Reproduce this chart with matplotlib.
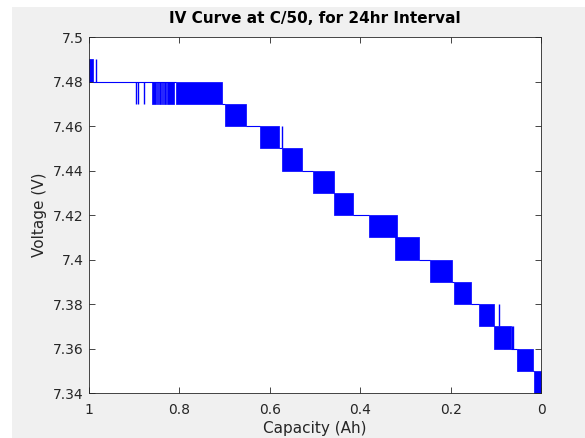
import matplotlib
matplotlib.use("Agg")
import matplotlib.pyplot as plt
from matplotlib.patches import Rectangle

# dense toggling blocks: capacity where the toggling starts / ends, lower voltage level
block_start = [1.0, 0.8082, 0.699, 0.6217, 0.5737, 0.5051, 0.4573, 0.3805,
               0.323, 0.2456, 0.1925, 0.1365, 0.1033, 0.0538, 0.0155]
block_end = [0.9905, 0.7064, 0.6527, 0.5796, 0.5294, 0.4586, 0.4153, 0.3192,
             0.27, 0.1976, 0.1549, 0.1033, 0.0664, 0.017, 0.0]
block_low = [7.48, 7.47, 7.46, 7.45, 7.44, 7.43, 7.42, 7.41,
             7.40, 7.39, 7.38, 7.37, 7.36, 7.35, 7.34]

# short bursts at 7.47-7.48 before the first big block
burst_start = [0.8613, 0.8502, 0.8451, 0.8392, 0.8334, 0.8281]
burst_end = [0.8518, 0.848, 0.8414, 0.8356, 0.8303, 0.8113]
burst_low = 7.47

# single toggles
spike_cap = [0.9845, 0.8967, 0.8923, 0.8777, 0.573, 0.0929, 0.0635, 0.0613, 0.052]
spike_low = [7.48, 7.47, 7.47, 7.47, 7.45, 7.37, 7.36, 7.36, 7.35]

step = 0.01

y_ticks = [7.34, 7.36, 7.38, 7.4, 7.42, 7.44, 7.46, 7.48, 7.5]
y_labels = ["7.34", "7.36", "7.38", "7.4", "7.42", "7.44", "7.46", "7.48", "7.5"]
x_ticks = [1, 0.8, 0.6, 0.4, 0.2, 0]
x_labels = ["1", "0.8", "0.6", "0.4", "0.2", "0"]


def main():
    blue = "#0000FF"
    dark = "#262626"

    fig = plt.figure(figsize=(5.85, 4.38), dpi=100, facecolor="white")
    # matlab style grey figure area
    fig.patches.append(Rectangle((12 / 585, 0), 1, 1 - 7 / 438,
                                 transform=fig.transFigure,
                                 facecolor="#F0F0F0", edgecolor="none", zorder=-10))

    ax = fig.add_axes([0.1521, 0.1027, 0.7727, 0.8128])
    ax.set_facecolor("white")

    # flat line between the blocks
    for i in range(len(block_start) - 1):
        ax.hlines(block_low[i], block_end[i], block_start[i + 1],
                  color=blue, linewidth=0.8)

    for s, e, low in zip(block_start, block_end, block_low):
        ax.fill_between([s, e], low, low + step, color=blue, linewidth=0.5,
                        edgecolor=blue)

    for s, e in zip(burst_start, burst_end):
        ax.fill_between([s, e], burst_low, burst_low + step, color=blue,
                        linewidth=0.5, edgecolor=blue)

    ax.vlines(spike_cap, spike_low, [v + step for v in spike_low],
              color=blue, linewidth=1.0)

    ax.set_xlim(1, 0)
    ax.set_ylim(7.34, 7.5)
    ax.set_xticks(x_ticks)
    ax.set_xticklabels(x_labels)
    ax.set_yticks(y_ticks)
    ax.set_yticklabels(y_labels)

    ax.tick_params(direction="in", length=4, width=0.6, colors=dark,
                   labelsize=10, top=True, right=True)
    ax.tick_params(axis="x", pad=7)
    ax.tick_params(axis="y", pad=4)
    for sp in ax.spines.values():
        sp.set_color(dark)
        sp.set_linewidth(0.6)

    ax.set_title("IV Curve at C/50, for 24hr Interval", fontsize=11,
                 fontweight="bold", color="black", pad=10)
    ax.set_xlabel("Capacity (Ah)", fontsize=11, color=dark, labelpad=3)
    ax.set_ylabel("Voltage (V)", fontsize=11, color=dark, labelpad=4)

    fig.savefig("out.png", dpi=100, facecolor=fig.get_facecolor())


if __name__ == "__main__":
    main()
